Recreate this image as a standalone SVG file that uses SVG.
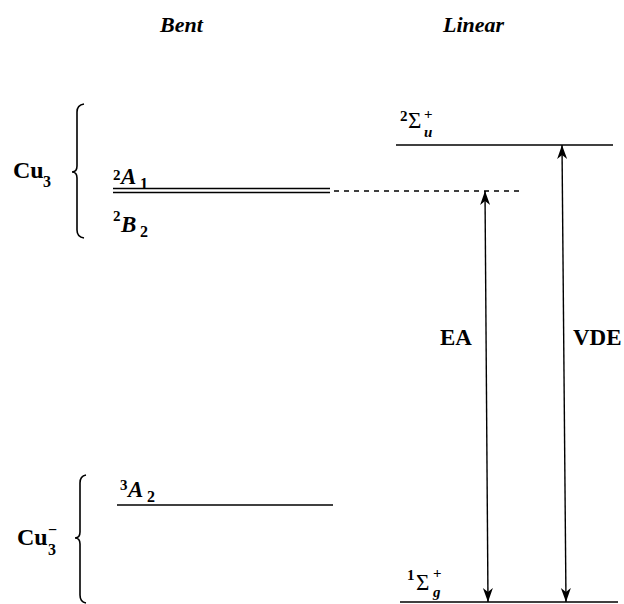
<svg xmlns="http://www.w3.org/2000/svg" width="624" height="604" viewBox="0 0 624 604">
<style>
text{font-family:"Liberation Serif","Times New Roman",serif;font-weight:bold;fill:#000}
.it{font-style:italic}
.hd{font-size:22px;font-style:italic}
.big{font-size:23px}
.sym{font-size:23px;font-weight:normal}
.sup{font-size:15px}
.sub{font-size:16px}
.lvl{stroke:#000;stroke-width:1.5;fill:none}
.dbl{stroke:#000;stroke-width:1.5;fill:none}
.brace{stroke:#000;stroke-width:1.6;fill:none}
.arr{stroke:#000;stroke-width:1.4;fill:none;marker-start:url(#ah);marker-end:url(#ah)}
.dash{stroke:#000;stroke-width:1.6;stroke-dasharray:5 5;fill:none}
</style>
<defs>
<marker id="ah" markerUnits="userSpaceOnUse" markerWidth="15" markerHeight="11" refX="14" refY="5.5" orient="auto-start-reverse">
<path d="M0,0.5 L14,5.5 L0,10.5 L4,5.5 Z" fill="#000"/>
</marker>
</defs>
<rect width="624" height="604" fill="#fff"/>
<g id="headers">
<text class="hd" x="160" y="32">Bent</text>
<text class="hd" x="443" y="32">Linear</text>
</g>
<g id="cu3-group">
<text class="big" x="13" y="178" style="font-size:24px">Cu</text>
<text class="sub" x="43" y="187">3</text>
<path class="brace" d="M84,104 Q77,105 77,112 L77,166 Q77,172 72,172 Q77,172 77,178 L77,230 Q77,237 84,238"/>
</g>
<g id="cu3minus-group">
<text class="big" x="17" y="545" style="font-size:24px">Cu</text>
<text class="sub" x="48" y="555">3</text>
<text class="sub" x="48" y="535">−</text>
<path class="brace" d="M86,475 Q80,476 80,483 L80,532 Q80,538 75,538 Q80,538 80,544 L80,595 Q80,602 86,603"/>
</g>
<g id="level-2A1-2B2">
<line class="dbl" x1="113" y1="188.5" x2="330" y2="188.5"/>
<line class="dbl" x1="113" y1="192.5" x2="330" y2="192.5"/>
<text class="sup" x="113" y="180">2</text>
<text class="big it" x="121" y="184">A</text>
<text class="sub" x="140" y="189">1</text>
<text class="sup" x="113" y="221">2</text>
<text class="big it" x="121" y="232">B</text>
<text class="sub" x="140" y="237">2</text>
</g>
<g id="level-3A2">
<line class="lvl" x1="117" y1="505" x2="333" y2="505"/>
<text class="sup" x="120" y="490">3</text>
<text class="big it" x="128" y="497">A</text>
<text class="sub" x="147" y="502">2</text>
</g>
<g id="level-2Su">
<line class="lvl" x1="396" y1="145" x2="613" y2="145"/>
<text class="sup" x="400" y="121">2</text>
<text class="sym" x="408" y="128">Σ</text>
<text class="sub it" x="424" y="137" style="font-size:15px">u</text>
<text class="sup" x="424" y="119">+</text>
</g>
<g id="level-1Sg">
<line class="lvl" x1="400" y1="602" x2="618" y2="602"/>
<text class="sup" x="407" y="580">1</text>
<text class="sym" x="416" y="590">Σ</text>
<text class="sub it" x="433" y="597" style="font-size:15px">g</text>
<text class="sup" x="433" y="578">+</text>
</g>
<g id="connectors">
<line class="dash" x1="334" y1="191" x2="524" y2="191"/>
<line class="arr" x1="485" y1="191" x2="488" y2="602"/>
<line class="arr" x1="562" y1="145" x2="566" y2="602"/>
</g>
<g id="labels">
<text class="big" x="440" y="345">EA</text>
<text class="big" x="573" y="345">VDE</text>
</g>
</svg>
